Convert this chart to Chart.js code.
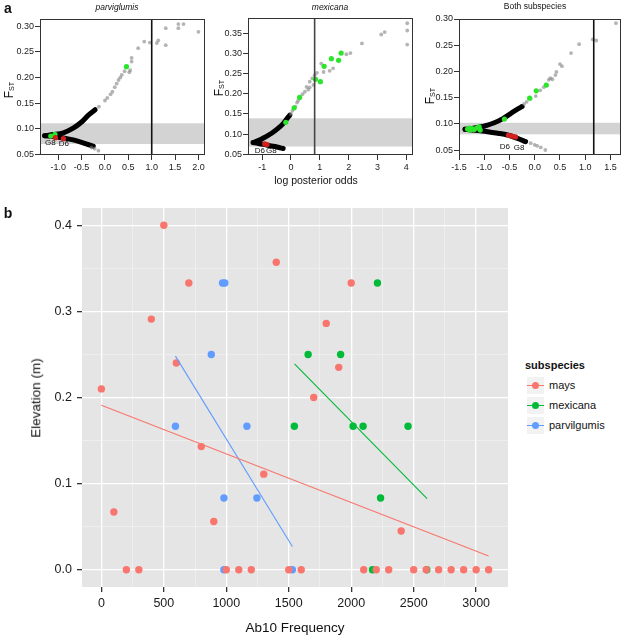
<!DOCTYPE html>
<html>
<head>
<meta charset="utf-8">
<script src="https://cdn.jsdelivr.net/npm/chart.js@4.4.0/dist/chart.umd.min.js"></script>
<style>
  body { margin: 0; width: 625px; height: 637px; position: relative; background: #fff; overflow: hidden;
         font-family: "Liberation Sans", Arial, Helvetica, sans-serif; }
  canvas { position: absolute; }
  .t { position: absolute; white-space: nowrap; color: #111; transform: translate(-50%, -50%); line-height: 1; }
  .rot { transform: translate(-50%, -50%) rotate(-90deg); }
  .t sub { font-size: 60%; vertical-align: -0.25em; }
  .key { position: absolute; left: 527px; width: 17px; height: 17px; background: #f2f2f2; }
  .key .ln { position: absolute; left: 0; right: 0; top: 8px; height: 1px; }
  .key .dt { position: absolute; left: 5px; top: 5px; width: 7px; height: 7px; border-radius: 50%; }
  .lab { position: absolute; left: 549px; font-size: 11px; color: #111; }
</style>
</head>
<body>
<canvas id="a1" width="215" height="185" style="left:0;top:0"></canvas>
<canvas id="a2" width="210" height="185" style="left:215px;top:0"></canvas>
<canvas id="a3" width="200" height="185" style="left:425px;top:0"></canvas>
<canvas id="b" width="520" height="442" style="left:0;top:195px"></canvas>

<div class="t" style="left:8px;top:8px;font-size:14px;font-weight:bold">a</div>
<div class="t" style="left:8px;top:213px;font-size:14px;font-weight:bold">b</div>

<div class="t" style="left:117px;top:7px;font-size:8.5px;font-style:italic">parviglumis</div>
<div class="t" style="left:330px;top:7px;font-size:8.5px;font-style:italic">mexicana</div>
<div class="t" style="left:535px;top:6px;font-size:8.5px">Both subspecies</div>
<div class="t rot" style="left:9px;top:90px;font-size:12px">F<sub>ST</sub></div>
<div class="t rot" style="left:219px;top:88px;font-size:12px">F<sub>ST</sub></div>
<div class="t rot" style="left:430px;top:96px;font-size:12px">F<sub>ST</sub></div>
<div class="t" style="left:316px;top:180px;font-size:10.5px">log posterior odds</div>

<div class="t rot" style="left:36px;top:398px;font-size:13.5px">Elevation (m)</div>
<div class="t" style="left:295px;top:628px;font-size:13.5px">Ab10 Frequency</div>

<div style="position:absolute;left:525px;top:359px;font-size:11px;font-weight:bold;color:#111">subspecies</div>
<div class="key" style="top:377px"><div class="ln" style="background:#F8766D"></div><div class="dt" style="background:#F8766D"></div></div>
<div class="lab" style="top:379px">mays</div>
<div class="key" style="top:397px"><div class="ln" style="background:#00BA38"></div><div class="dt" style="background:#00BA38"></div></div>
<div class="lab" style="top:399px">mexicana</div>
<div class="key" style="top:417px"><div class="ln" style="background:#619CFF"></div><div class="dt" style="background:#619CFF"></div></div>
<div class="lab" style="top:419px">parvilgumis</div>

<script>
// ---- panel a: log posterior odds vs FST, [x, y] pairs ----
var parvTicksX = [-1.0, -0.5, 0.0, 0.5, 1.0, 1.5, 2.0];
var parvTicksY = [0.05, 0.10, 0.15, 0.20, 0.25, 0.30];
var parvUpper = [[-1.29, 0.0862], [-1.1, 0.0885], [-0.89, 0.092], [-0.68, 0.101], [-0.5, 0.113], [-0.36, 0.126], [-0.21, 0.137]];
var parvLower = [[-1.29, 0.0862], [-1.1, 0.0845], [-0.89, 0.082], [-0.68, 0.078], [-0.5, 0.0734], [-0.32, 0.068], [-0.25, 0.066]];
var parvGray = [[-0.13, 0.143], [0.0, 0.155], [0.05, 0.16], [0.12, 0.167], [0.16, 0.172], [0.21, 0.181], [0.25, 0.188],
  [0.29, 0.195], [0.33, 0.2], [0.36, 0.205], [0.42, 0.212], [0.52, 0.21], [0.54, 0.214], [0.57, 0.231], [0.57, 0.238],
  [0.71, 0.257], [0.84, 0.27], [0.96, 0.268], [1.11, 0.267], [1.14, 0.272], [1.30, 0.263], [1.30, 0.296],
  [1.57, 0.304], [1.57, 0.296], [1.68, 0.304], [2.0, 0.289], [-0.29, 0.063], [-0.22, 0.061], [-0.14, 0.057]];
var parvGreen = [[-1.16, 0.0857], [-1.07, 0.089], [0.46, 0.221]];
var parvRed = [[-1.06, 0.0825], [-0.89, 0.0805]];
var parvLabels = [["G8", -1.17, 0.072], ["D6", -0.88, 0.070]];

var mexTicksX = [-1, 0, 1, 2, 3, 4];
var mexTicksY = [0.05, 0.10, 0.15, 0.20, 0.25, 0.30, 0.35];
var mexUpper = [[-1.31, 0.079], [-1.1, 0.085], [-0.97, 0.0896], [-0.67, 0.102], [-0.45, 0.114], [-0.27, 0.126], [-0.13, 0.139], [-0.04, 0.147]];
var mexLower = [[-1.31, 0.079], [-1.1, 0.076], [-0.85, 0.073], [-0.56, 0.069], [-0.39, 0.066], [-0.27, 0.064]];
var mexGray = [[0.0, 0.15], [0.05, 0.158], [0.15, 0.168], [0.21, 0.178], [0.25, 0.183], [0.4, 0.199], [0.48, 0.205],
  [0.54, 0.217], [0.6, 0.21], [0.65, 0.216], [0.65, 0.23], [0.74, 0.238], [0.78, 0.222], [0.82, 0.246], [0.9, 0.252],
  [1.05, 0.275], [1.13, 0.254], [1.34, 0.257], [1.46, 0.263], [1.92, 0.298], [2.06, 0.301], [2.46, 0.325],
  [3.13, 0.347], [3.25, 0.353], [4.03, 0.375], [4.03, 0.357], [4.03, 0.322]];
var mexGreen = [[-0.18, 0.129], [0.11, 0.165], [0.30, 0.191], [0.85, 0.236], [1.02, 0.230], [1.15, 0.268], [1.40, 0.287], [1.65, 0.283], [1.74, 0.301]];
var mexRed = [[-0.91, 0.0755], [-0.83, 0.074]];
var mexLabels = [["D6", -1.08, 0.059], ["G8", -0.68, 0.059]];

var bothTicksX = [-1.5, -1.0, -0.5, 0.0, 0.5, 1.0, 1.5];
var bothTicksY = [0.05, 0.10, 0.15, 0.20, 0.25, 0.30];
var bothUpper = [[-1.38, 0.0895], [-1.19, 0.092], [-0.99, 0.0958], [-0.80, 0.102], [-0.63, 0.110], [-0.47, 0.120], [-0.34, 0.128], [-0.25, 0.133]];
var bothLower = [[-1.38, 0.0895], [-1.12, 0.087], [-0.93, 0.085], [-0.73, 0.082], [-0.54, 0.0786], [-0.34, 0.0723], [-0.18, 0.066]];
var bothGray = [[-0.21, 0.138], [-0.16, 0.142], [-0.08, 0.148], [0.02, 0.153], [0.11, 0.164], [0.18, 0.17], [0.28, 0.184],
  [0.31, 0.187], [0.35, 0.185], [0.41, 0.193], [0.43, 0.199], [0.50, 0.214], [0.54, 0.21], [0.72, 0.235], [0.88, 0.252],
  [1.15, 0.261], [1.22, 0.259], [1.61, 0.292], [-0.08, 0.063], [0.0, 0.06], [0.05, 0.058], [0.12, 0.055], [0.21, 0.05]];
var bothGreen = [[-1.33, 0.090], [-1.3, 0.092], [-1.28, 0.088], [-1.25, 0.0895], [-1.24, 0.091], [-1.2, 0.089], [-1.15, 0.092],
  [-1.1, 0.094], [-1.08, 0.088], [-0.60, 0.109], [-0.10, 0.149], [0.03, 0.163], [0.23, 0.174]];
var bothRed = [[-0.52, 0.078], [-0.45, 0.0765], [-0.38, 0.075]];
var bothLabels = [["D6", -0.59, 0.0552], ["G8", -0.31, 0.0533]];

// ---- panel b: Ab10 frequency vs elevation ----
var xMajor = [0, 500, 1000, 1500, 2000, 2500, 3000];
var yMajor = [0.0, 0.1, 0.2, 0.3, 0.4];
var maysX = [0, 100, 200, 300, 400, 500, 600, 700, 800, 900, 1000, 1100, 1200, 1300, 1400, 1500,
  1600, 1700, 1800, 1900, 2000, 2100, 2200, 2300, 2400, 2500, 2600, 2700, 2800, 2900, 3000, 3100];
var maysY = [0.21, 0.067, 0, 0, 0.291, 0.4, 0.24, 0.333, 0.143, 0.056, 0, 0, 0, 0.111, 0.357, 0,
  0, 0.2, 0.286, 0.235, 0.333, 0, 0, 0, 0.045, 0, 0, 0, 0, 0, 0, 0];
var mexX = [1545, 1655, 1915, 2015, 2095, 2210, 2235, 2455, 2170, 2605];
var mexY = [0.1667, 0.25, 0.25, 0.1667, 0.1667, 0.333, 0.0833, 0.1667, 0, 0];
var parvX = [593, 880, 970, 988, 981, 1165, 1245, 981, 1529];
var parvY = [0.1667, 0.25, 0.333, 0.333, 0.0833, 0.1667, 0.0833, 0, 0];
var maysFit = [[0, 0.191], [3100, 0.016]];
var mexFit = [[1546, 0.239], [2607, 0.0825]];
var parvFit = [[593, 0.248], [1529, 0.027]];

Chart.defaults.font.family = '"Liberation Sans", Arial, Helvetica, sans-serif';
Chart.defaults.color = '#222';

function pts(pairs) {
  return pairs.map(function (p) { return { x: p[0], y: p[1] }; });
}

var fstDecor = {
  id: 'fstDecor',
  beforeDatasetsDraw: function (chart, args, o) {
    var c = chart.ctx, a = chart.chartArea, y = chart.scales.y;
    c.save();
    c.fillStyle = '#d3d3d3';
    var y1 = y.getPixelForValue(o.band[1]), y0 = y.getPixelForValue(o.band[0]);
    c.fillRect(a.left, y1, a.right - a.left, y0 - y1);
    c.restore();
  },
  afterDatasetsDraw: function (chart, args, o) {
    var c = chart.ctx, a = chart.chartArea, x = chart.scales.x, y = chart.scales.y;
    c.save();
    c.strokeStyle = o.vcolor;
    c.lineWidth = 1.6;
    var vx = x.getPixelForValue(o.vline);
    c.beginPath(); c.moveTo(vx, a.top); c.lineTo(vx, a.bottom); c.stroke();
    c.strokeStyle = '#333';
    c.lineWidth = 1;
    c.strokeRect(a.left + 0.5, a.top + 0.5, a.right - a.left - 1, a.bottom - a.top - 1);
    c.fillStyle = '#111';
    c.font = '8px "Liberation Sans", Arial, sans-serif';
    c.textAlign = 'center';
    c.textBaseline = 'middle';
    o.labels.forEach(function (l) {
      c.fillText(l[0], x.getPixelForValue(l[1]), y.getPixelForValue(l[2]));
    });
    c.restore();
  }
};

function fstPlot(id, d) {
  new Chart(document.getElementById(id), {
    type: 'scatter',
    data: {
      datasets: [
        { data: pts(d.red), backgroundColor: '#d41f1f', pointRadius: 2.6, borderWidth: 0 },
        { data: pts(d.green), backgroundColor: '#2be52b', pointRadius: 2.6, borderWidth: 0 },
        { data: pts(d.gray), backgroundColor: 'rgba(130,130,130,0.6)', pointRadius: 1.9, borderWidth: 0 },
        { data: pts(d.upper), showLine: true, borderColor: '#000', borderWidth: 5, pointRadius: 0, tension: 0.3, borderCapStyle: 'round' },
        { data: pts(d.lower), showLine: true, borderColor: '#000', borderWidth: 5, pointRadius: 0, tension: 0.3, borderCapStyle: 'round' }
      ]
    },
    options: {
      responsive: false,
      animation: false,
      layout: { padding: { top: d.padTop, right: d.padRight, left: 0, bottom: 0 } },
      plugins: {
        legend: { display: false },
        tooltip: { enabled: false },
        fstDecor: { band: d.band, vline: d.vline, vcolor: d.vcolor, labels: d.labels }
      },
      scales: {
        x: {
          type: 'linear', min: d.xMin, max: d.xMax,
          afterFit: function (s) { s.height = 30; },
          afterBuildTicks: function (s) { s.ticks = d.xTicks.map(function (v) { return { value: v }; }); },
          ticks: { callback: function (v) { return v.toFixed(d.xDec); }, font: { size: 9 }, padding: 2, autoSkip: false, maxRotation: 0 },
          grid: { drawOnChartArea: false, tickLength: 5, color: '#333' },
          border: { display: false }
        },
        y: {
          type: 'linear', min: d.yMin, max: d.yMax,
          afterFit: function (s) { s.width = d.yWidth; },
          afterBuildTicks: function (s) { s.ticks = d.yTicks.map(function (v) { return { value: v }; }); },
          ticks: { callback: function (v) { return v.toFixed(2); }, font: { size: 9 }, padding: 1, autoSkip: false },
          grid: { drawOnChartArea: false, tickLength: 5, color: '#333' },
          border: { display: false }
        }
      }
    },
    plugins: [fstDecor]
  });
}

fstPlot('a1', {
  upper: parvUpper, lower: parvLower, gray: parvGray, green: parvGreen, red: parvRed, labels: parvLabels,
  xTicks: parvTicksX, yTicks: parvTicksY, xDec: 1, xMin: -1.39, xMax: 2.14, yMin: 0.0486, yMax: 0.314,
  band: [0.070, 0.1105], vline: 1.0, vcolor: '#111', padTop: 19, padRight: 10, yWidth: 40
});
fstPlot('a2', {
  upper: mexUpper, lower: mexLower, gray: mexGray, green: mexGreen, red: mexRed, labels: mexLabels,
  xTicks: mexTicksX, yTicks: mexTicksY, xDec: 0, xMin: -1.49, xMax: 4.23, yMin: 0.048, yMax: 0.388,
  band: [0.069, 0.139], vline: 0.82, vcolor: '#444', padTop: 18, padRight: 12, yWidth: 33
});
fstPlot('a3', {
  upper: bothUpper, lower: bothLower, gray: bothGray, green: bothGreen, red: bothRed, labels: bothLabels,
  xTicks: bothTicksX, yTicks: bothTicksY, xDec: 1, xMin: -1.5, xMax: 1.71, yMin: 0.0405, yMax: 0.30,
  band: [0.080, 0.102], vline: 1.17, vcolor: '#111', padTop: 19, padRight: 3, yWidth: 34
});

// ---- panel b ----
var xMinor = [250, 750, 1250, 1750, 2250, 2750];
var yMinor = [0.05, 0.15, 0.25, 0.35];

var panelBg = {
  id: 'panelBg',
  beforeDraw: function (chart) {
    var a = chart.chartArea, c = chart.ctx;
    c.save();
    c.fillStyle = '#e5e5e5';
    c.fillRect(a.left, a.top, a.right - a.left, a.bottom - a.top);
    c.restore();
  }
};

function dots(xs, ys, color) {
  return {
    data: xs.map(function (x, i) { return { x: x, y: ys[i] }; }),
    backgroundColor: color, pointRadius: 3.7, borderWidth: 0
  };
}
function fit(pairs, color) {
  return { data: pts(pairs), showLine: true, borderColor: color, borderWidth: 1.1, pointRadius: 0 };
}
function isIn(list, v) {
  return list.some(function (m) { return Math.abs(m - v) < 1e-9; });
}
function gridOpts(major) {
  return {
    color: function (ctx) { return ctx.tick && isIn(major, ctx.tick.value) ? '#ffffff' : '#f3f3f3'; },
    lineWidth: function (ctx) { return ctx.tick && isIn(major, ctx.tick.value) ? 1.3 : 0.6; },
    tickColor: function (ctx) { return ctx.tick && isIn(major, ctx.tick.value) ? '#333' : 'rgba(0,0,0,0)'; },
    tickLength: 5
  };
}

new Chart(document.getElementById('b'), {
  type: 'scatter',
  data: {
    datasets: [
      fit(maysFit, '#F8766D'), fit(mexFit, '#00BA38'), fit(parvFit, '#619CFF'),
      dots(maysX, maysY, '#F8766D'), dots(mexX, mexY, '#00BA38'), dots(parvX, parvY, '#619CFF')
    ]
  },
  options: {
    responsive: false,
    animation: false,
    layout: { padding: { top: 13, right: 12, left: 0, bottom: 0 } },
    plugins: { legend: { display: false }, tooltip: { enabled: false } },
    scales: {
      x: {
        type: 'linear', min: -155, max: 3255,
        afterFit: function (s) { s.height = 50; },
        afterBuildTicks: function (s) {
          s.ticks = xMajor.concat(xMinor).sort(function (p, q) { return p - q; }).map(function (v) { return { value: v }; });
        },
        ticks: {
          callback: function (v) { return isIn(xMajor, v) ? String(v) : ''; },
          font: { size: 12.5 }, color: '#1a1a1a', padding: 4, autoSkip: false, maxRotation: 0
        },
        grid: gridOpts(xMajor),
        border: { display: false }
      },
      y: {
        type: 'linear', min: -0.02, max: 0.42,
        afterFit: function (s) { s.width = 82; },
        afterBuildTicks: function (s) {
          s.ticks = yMajor.concat(yMinor).sort(function (p, q) { return p - q; }).map(function (v) { return { value: v }; });
        },
        ticks: {
          callback: function (v) { return isIn(yMajor, v) ? v.toFixed(1) : ''; },
          font: { size: 12.5 }, color: '#1a1a1a', padding: 5, autoSkip: false
        },
        grid: gridOpts(yMajor),
        border: { display: false }
      }
    }
  },
  plugins: [panelBg]
});
</script>
</body>
</html>
